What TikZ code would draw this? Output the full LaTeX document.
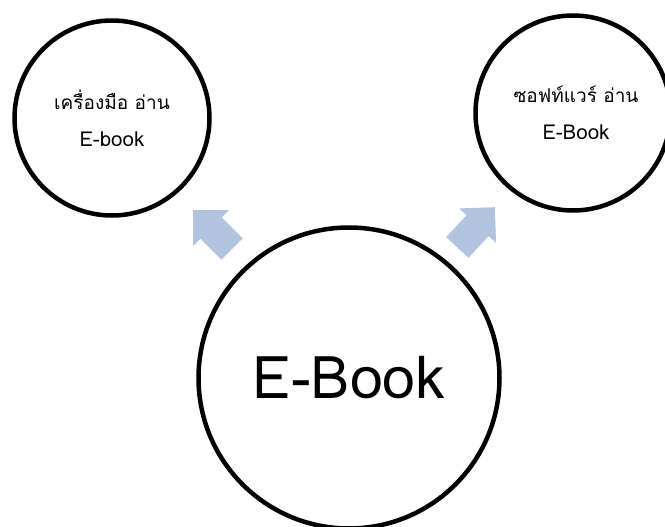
\documentclass[tikz,border=0pt]{standalone}
\usepackage{fontspec}
\usetikzlibrary{shapes.arrows}
\newfontfamily\thaifont[Script=Thai]{Loma}
\definecolor{arrowblue}{RGB}{178,195,224}
\newcommand{\latin}{\fontsize{20.5}{37}\selectfont}
\tikzset{
  topic/.style={circle, draw, line width=4.5pt, align=center, inner sep=0pt,
    font=\thaifont\fontsize{19}{37}\selectfont},
  pointer/.style={single arrow, fill=arrowblue, inner xsep=0pt, inner ysep=15pt, anchor=tip,
    minimum height=55pt, single arrow head extend=10pt}
}
\begin{document}
\begin{tikzpicture}[x=1pt, y=-1pt]
  \useasboundingbox (0,0) rectangle (665,527);
  % circles
  \node[topic, minimum size=301pt, font=\thaifont\fontsize{59}{60}\selectfont] (ebook) at (349,378) {E-Book};
  \node[topic, minimum size=195pt] (device) at (112,118) {เครื่องมือ อ่าน\\{\latin E-book}};
  \node[topic, minimum size=195pt] (software) at (573,113) {\hspace*{6pt}ซอฟท์แวร์ อ่าน\\\hspace*{6pt}{\latin E-Book}};
  % arrows
  \node[pointer, rotate=135] (todevice) at (193,210) {};
  \node[pointer, rotate=47] (tosoftware) at (495,207) {};
\end{tikzpicture}
\end{document}
